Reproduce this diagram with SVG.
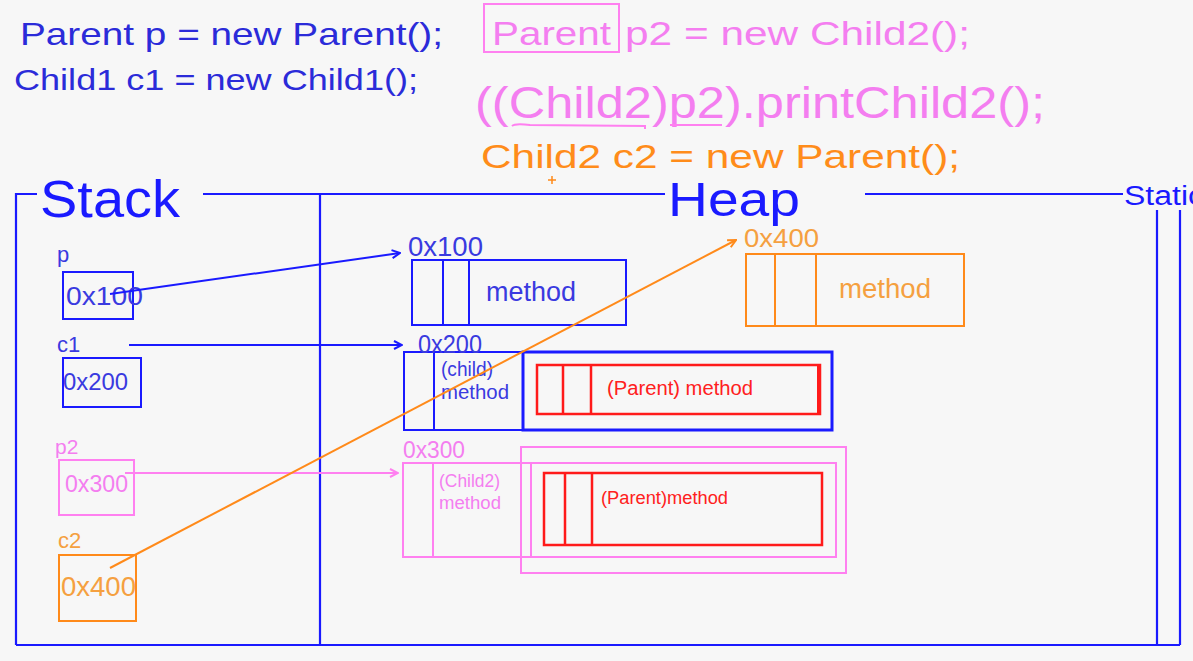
<svg xmlns="http://www.w3.org/2000/svg" width="1193" height="661" viewBox="0 0 1193 661">
<defs>
<style>
text{font-family:"Liberation Sans",Arial,sans-serif}
.fb{stroke:#1a1aff;stroke-width:2.2;fill:none}
.bl{stroke:#1a1aff;stroke-width:2;fill:none}
.pk{stroke:#ff80f0;stroke-width:2;fill:none}
.or{stroke:#ff8a1a;stroke-width:2;fill:none}
.rd{stroke:#ff1a1a;stroke-width:2.5;fill:none}
.tb{fill:#2b2bd9}
.tl{fill:#3a3ae0}
.tp{fill:#f47ef0}
.to{fill:#ff8c1a}
.tol{fill:#f5a040}
.tr{fill:#ff2020}
</style>
<marker id="ab" viewBox="0 0 10 10" refX="9" refY="5" markerWidth="10" markerHeight="10" markerUnits="userSpaceOnUse" orient="auto"><path d="M1,1 L9,5 L1,9" fill="none" stroke="#1a1aff" stroke-width="2"/></marker>
<marker id="ap" viewBox="0 0 10 10" refX="9" refY="5" markerWidth="10" markerHeight="10" markerUnits="userSpaceOnUse" orient="auto"><path d="M1,1 L9,5 L1,9" fill="none" stroke="#ff80f0" stroke-width="2"/></marker>
<marker id="ao" viewBox="0 0 10 10" refX="9" refY="5" markerWidth="10" markerHeight="10" markerUnits="userSpaceOnUse" orient="auto"><path d="M1,1 L9,5 L1,9" fill="none" stroke="#ff8a1a" stroke-width="2"/></marker>
</defs>
<rect width="1193" height="661" fill="#f7f7f7"/>

<g id="code">
<text class="tb" x="20" y="45" font-size="32" textLength="423" lengthAdjust="spacingAndGlyphs">Parent p = new Parent();</text>
<text class="tb" x="14" y="90" font-size="30" textLength="404" lengthAdjust="spacingAndGlyphs">Child1 c1 = new Child1();</text>
<rect x="484" y="4" width="135" height="48" class="pk"/>
<text class="tp" x="492" y="45" font-size="34" textLength="119" lengthAdjust="spacingAndGlyphs">Parent</text>
<text class="tp" x="625" y="45" font-size="34" textLength="345" lengthAdjust="spacingAndGlyphs">p2 = new Child2();</text>
<text class="tp" x="475" y="118" font-size="44" textLength="570" lengthAdjust="spacingAndGlyphs">((Child2)p2).printChild2();</text>
<path d="M512,126 Q515,123 530,125 L645,126 L645,129" class="pk"/>
<path d="M670,125 L722,125" class="pk"/>
<text class="to" x="481" y="168" font-size="34" textLength="479" lengthAdjust="spacingAndGlyphs">Child2 c2 = new Parent();</text>
<path d="M552,176 V184 M548,180 H556" stroke="#ff8a1a" stroke-width="1.5"/>
</g>

<g id="frame">
<path d="M16,645 V194 H37" class="fb"/>
<path d="M203,194 H665" class="fb"/>
<path d="M865,194 H1123" class="fb"/>
<path d="M320,194 V645" class="fb"/>
<path d="M16,645 H1180" class="fb"/>
<path d="M1157,210 V645 M1180,210 V645" class="fb"/>
<text x="40" y="217" font-size="51" textLength="140" lengthAdjust="spacingAndGlyphs" fill="#1a1aff">Stack</text>
<text x="668" y="216" font-size="48" textLength="132" lengthAdjust="spacingAndGlyphs" fill="#1a1aff">Heap</text>
<text x="1124" y="205" font-size="27" textLength="80" lengthAdjust="spacingAndGlyphs" fill="#1a1aff">Static</text>
</g>

<g id="var-p">
<text class="tl" x="57" y="262" font-size="22">p</text>
<rect x="63" y="272" width="70" height="47" class="bl"/>
<text class="tl" x="66" y="305" font-size="26" textLength="77" lengthAdjust="spacingAndGlyphs">0x100</text>
</g>
<g id="var-c1">
<text class="tl" x="57" y="352" font-size="22">c1</text>
<rect x="63" y="358" width="78" height="49" class="bl"/>
<text class="tl" x="63" y="390" font-size="24" textLength="65" lengthAdjust="spacingAndGlyphs">0x200</text>
</g>
<g id="var-p2">
<text class="tp" x="55" y="454" font-size="21">p2</text>
<rect x="59" y="460" width="75" height="55" class="pk"/>
<text class="tp" x="65" y="492" font-size="23" textLength="63" lengthAdjust="spacingAndGlyphs">0x300</text>
</g>
<g id="var-c2">
<text class="tol" x="58" y="548" font-size="22">c2</text>
<rect x="59" y="555" width="77" height="66" class="or"/>
<text class="tol" x="61" y="596" font-size="27" textLength="75" lengthAdjust="spacingAndGlyphs">0x400</text>
</g>

<g id="obj-100">
<text class="tl" x="408" y="256" font-size="27" textLength="75" lengthAdjust="spacingAndGlyphs">0x100</text>
<rect x="412" y="260" width="214" height="65" class="bl"/>
<path d="M443,260 V325 M469,260 V325" class="bl"/>
<text class="tl" x="486" y="301" font-size="27" textLength="90" lengthAdjust="spacingAndGlyphs">method</text>
</g>

<g id="obj-200">
<rect x="404" y="352" width="119" height="78" class="bl"/>
<path d="M434,352 V430" class="bl"/>
<rect x="523" y="352" width="309" height="78" stroke="#1a1aff" stroke-width="3" fill="none"/>
<text class="tl" x="418" y="353" font-size="25" textLength="64" lengthAdjust="spacingAndGlyphs">0x200</text>
<text class="tl" x="441" y="376" font-size="20" textLength="52" lengthAdjust="spacingAndGlyphs">(child)</text>
<text class="tl" x="441" y="399" font-size="20" textLength="68" lengthAdjust="spacingAndGlyphs">method</text>
<rect x="537" y="365" width="283" height="49" class="rd"/>
<path d="M819,365 V414" stroke="#ff1a1a" stroke-width="4"/>
<path d="M563,365 V414 M591,365 V414" class="rd"/>
<text class="tr" x="607" y="395" font-size="20" textLength="146" lengthAdjust="spacingAndGlyphs">(Parent) method</text>
</g>

<g id="obj-300">
<text class="tp" x="403" y="458" font-size="23" textLength="62" lengthAdjust="spacingAndGlyphs">0x300</text>
<rect x="521" y="447" width="325" height="126" class="pk"/>
<rect x="403" y="463" width="433" height="94" class="pk"/>
<path d="M433,463 V557 M531,463 V557" class="pk"/>
<text class="tp" x="439" y="487" font-size="18" textLength="61" lengthAdjust="spacingAndGlyphs">(Child2)</text>
<text class="tp" x="439" y="509" font-size="18" textLength="62" lengthAdjust="spacingAndGlyphs">method</text>
<rect x="544" y="473" width="278" height="72" class="rd"/>
<path d="M565,473 V545 M592,473 V545" class="rd"/>
<text class="tr" x="601" y="504" font-size="18" textLength="127" lengthAdjust="spacingAndGlyphs">(Parent)method</text>
</g>

<g id="obj-400">
<text class="tol" x="744" y="247" font-size="26" textLength="75" lengthAdjust="spacingAndGlyphs">0x400</text>
<rect x="746" y="254" width="218" height="72" class="or"/>
<path d="M775,254 V326 M816,254 V326" class="or"/>
<text class="tol" x="839" y="298" font-size="27" textLength="92" lengthAdjust="spacingAndGlyphs">method</text>
</g>

<g id="connectors">
<path d="M110,294 L400,253" class="bl" marker-end="url(#ab)"/>
<path d="M129,345 L402,345" class="bl" marker-end="url(#ab)"/>
<path d="M125,473 L398,473" class="pk" marker-end="url(#ap)"/>
<path d="M110,568 L736,240" class="or" marker-end="url(#ao)"/>
</g>
</svg>
